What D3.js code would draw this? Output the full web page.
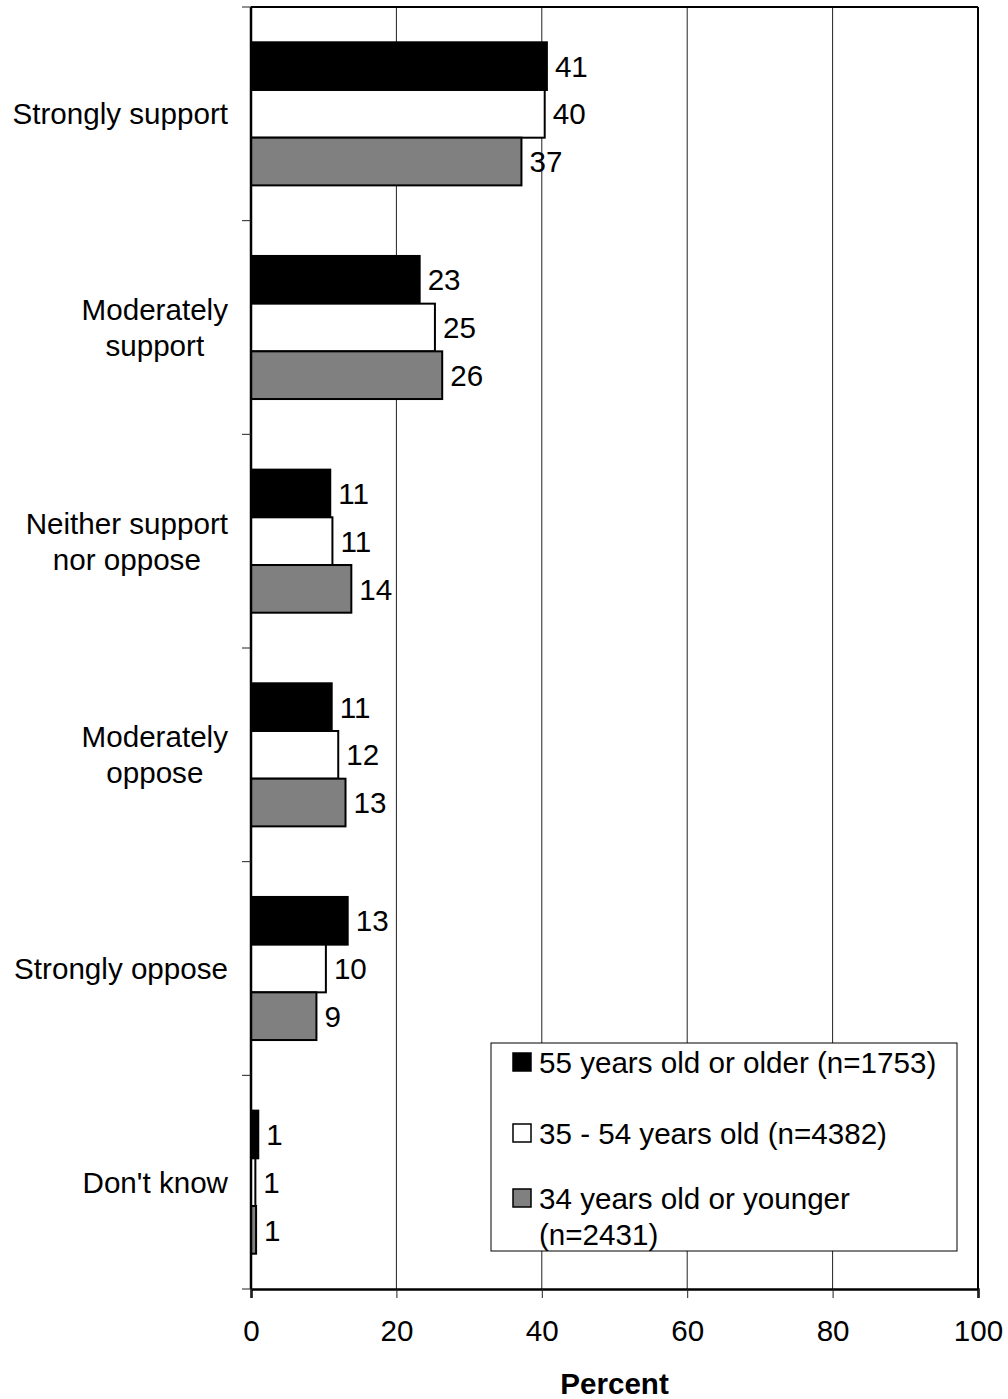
<!DOCTYPE html>
<html>
<head>
<meta charset="utf-8">
<script src="https://cdn.jsdelivr.net/npm/d3@7"></script>
<style>
  html, body { margin: 0; padding: 0; background: #fff; }
  svg { display: block; }
  text { font-family: "Liberation Sans", Arial, Helvetica, sans-serif; fill: #000; }
</style>
</head>
<body>
<svg id="chart" width="1008" height="1399"></svg>
<script>
// ---- data ----
const categories = ["Strongly support", "Moderately support", "Neither support nor oppose", "Moderately oppose", "Strongly oppose", "Don't know"];
const categoryLines = [["Strongly support"], ["Moderately", "support"], ["Neither support", "nor oppose"], ["Moderately", "oppose"], ["Strongly oppose"], ["Don't know"]];
const seriesNames = ["55 years old or older (n=1753)", "35 - 54 years old (n=4382)", "34 years old or younger (n=2431)"];
const legendLines = [["55 years old or older (n=1753)"], ["35 - 54 years old (n=4382)"], ["34 years old or younger", "(n=2431)"]];
const older = [40.7, 23.2, 10.9, 11.1, 13.3, 1.0];
const middle = [40.4, 25.3, 11.2, 12.0, 10.3, 0.6];
const younger = [37.2, 26.3, 13.8, 13.0, 9.0, 0.7];
const xTicks = [0, 20, 40, 60, 80, 100];
const seriesColors = ["#000000", "#ffffff", "#808080"];

const seriesValues = [older, middle, younger];

// ---- layout ----
const svg = d3.select("#chart");
const L = 251, R = 978, T = 7, B = 1289;
const FS = 29.6;

const x = d3.scaleLinear().domain([0, 100]).range([L, R]);
const y0 = d3.scaleBand().domain(categories).range([T, B]).padding(0);
const y1 = d3.scaleBand().domain(seriesNames).range([0, y0.bandwidth()]).paddingInner(0).paddingOuter(0.74);

// gridlines
svg.append("g").selectAll("line").data(xTicks.filter(d => d > 0 && d < 100)).join("line")
  .attr("x1", d => x(d)).attr("x2", d => x(d))
  .attr("y1", T).attr("y2", B)
  .attr("stroke", "#222").attr("stroke-width", 1);

// bars
const rows = [];
categories.forEach((c, ci) => {
  seriesNames.forEach((s, si) => {
    rows.push({ cat: c, ser: s, si, v: seriesValues[si][ci] });
  });
});

svg.append("g").selectAll("rect").data(rows).join("rect")
  .attr("x", x(0))
  .attr("y", d => y0(d.cat) + y1(d.ser))
  .attr("width", d => x(d.v) - x(0))
  .attr("height", y1.bandwidth())
  .attr("fill", d => seriesColors[d.si])
  .attr("stroke", "#000").attr("stroke-width", 2);

// value labels
svg.append("g").selectAll("text").data(rows).join("text")
  .attr("x", d => x(d.v) + 8)
  .attr("y", d => y0(d.cat) + y1(d.ser) + y1.bandwidth() / 2)
  .attr("dy", "0.36em")
  .attr("font-size", FS)
  .text(d => d3.format(".0f")(d.v));

// plot border (top & right)
svg.append("line").attr("x1", L).attr("x2", R).attr("y1", T).attr("y2", T).attr("stroke", "#000").attr("stroke-width", 2);
svg.append("line").attr("x1", R).attr("x2", R).attr("y1", T).attr("y2", B).attr("stroke", "#000").attr("stroke-width", 2);

// x axis
const xAxis = d3.axisBottom(x).tickValues(xTicks).tickSize(9).tickPadding(22).tickFormat(d3.format("d"));
const gx = svg.append("g").attr("transform", `translate(0,${B})`).call(xAxis);
gx.select(".domain").attr("stroke", "#000").attr("stroke-width", 2.5);
gx.selectAll(".tick line").attr("stroke", "#222").attr("stroke-width", 1);
gx.selectAll(".tick text").attr("font-size", FS).attr("font-family", "Liberation Sans, Arial, sans-serif").attr("fill", "#000");

// y axis (category boundaries ticks)
const boundaries = categories.map(c => y0(c)).concat([B]);
const gy = svg.append("g");
gy.append("line").attr("x1", L).attr("x2", L).attr("y1", T).attr("y2", B).attr("stroke", "#000").attr("stroke-width", 2.5);
gy.selectAll("line.tk").data(boundaries).join("line").attr("class", "tk")
  .attr("x1", L - 9).attr("x2", L).attr("y1", d => d).attr("y2", d => d)
  .attr("stroke", "#222").attr("stroke-width", 1);

// category labels: block right edge at 228, lines centred within block
const lineH = 36;
const labelRight = 228;
categories.forEach((c, ci) => {
  const lines = categoryLines[ci];
  const cy = y0(c) + y0.bandwidth() / 2;
  const g = svg.append("g");
  const texts = lines.map((ln, li) => g.append("text")
      .attr("y", cy + (li - (lines.length - 1) / 2) * lineH)
      .attr("dy", "0.36em")
      .attr("text-anchor", "middle")
      .attr("font-size", FS)
      .text(ln));
  const maxW = d3.max(texts, t => t.node().getComputedTextLength());
  texts.forEach(t => t.attr("x", labelRight - maxW / 2));
});

// x axis title
svg.append("text")
  .attr("x", (L + R) / 2).attr("y", 1383).attr("dy", "0.36em")
  .attr("text-anchor", "middle").attr("font-size", FS).attr("font-weight", "bold")
  .text("Percent");

// legend
const lg = svg.append("g");
lg.append("rect").attr("x", 491).attr("y", 1043).attr("width", 466).attr("height", 208)
  .attr("fill", "#fff").attr("stroke", "#000").attr("stroke-width", 1);
const rowY = [1062, 1133, 1198];
seriesNames.forEach((s, si) => {
  lg.append("rect").attr("x", 513).attr("y", rowY[si] - 9).attr("width", 18).attr("height", 18)
    .attr("fill", seriesColors[si]).attr("stroke", "#000").attr("stroke-width", 1.5);
  legendLines[si].forEach((ln, li) => {
    lg.append("text").attr("x", 539).attr("y", rowY[si] + li * lineH).attr("dy", "0.36em")
      .attr("font-size", FS).text(ln);
  });
});
</script>
</body>
</html>
